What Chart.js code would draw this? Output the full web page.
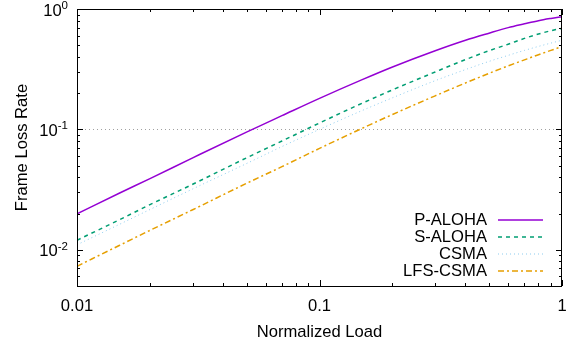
<!DOCTYPE html>
<html>
<head>
<meta charset="utf-8">
<script src="https://cdn.jsdelivr.net/npm/chart.js@4.4.1/dist/chart.umd.min.js"></script>
<style>
  body { margin: 0; background: #fff; }
  #wrap { width: 568px; height: 348px; }
</style>
</head>
<body>
<div id="wrap"><canvas id="lossChart" width="568" height="348"></canvas></div>
<script>
// values
const loads   = [0.01, 0.015, 0.02, 0.03, 0.05, 0.07, 0.1, 0.15, 0.2, 0.3, 0.4, 0.5, 0.6, 0.7, 0.8, 0.9, 1.0];
const pAloha  = [0.0199, 0.0296, 0.039, 0.058, 0.095, 0.13, 0.181, 0.259, 0.33, 0.45, 0.55, 0.63, 0.70, 0.753, 0.80, 0.835, 0.864];
const sAloha  = [0.0120, 0.0178, 0.0237, 0.035, 0.058, 0.080, 0.113, 0.165, 0.213, 0.30, 0.38, 0.45, 0.51, 0.57, 0.62, 0.66, 0.69];
const csma    = [0.0110, 0.0163, 0.0216, 0.032, 0.052, 0.072, 0.100, 0.1435, 0.183, 0.254, 0.314, 0.367, 0.412, 0.453, 0.489, 0.521, 0.55];
const lfsCsma = [0.0073, 0.0109, 0.0145, 0.0215, 0.0356, 0.049, 0.0695, 0.102, 0.133, 0.19, 0.243, 0.292, 0.337, 0.378, 0.417, 0.453, 0.487];

const seriesNames = ['P-ALOHA', 'S-ALOHA', 'CSMA', 'LFS-CSMA'];
const xTickValues = [0.01, 0.1, 1];
const xTickLabels = ['0.01', '0.1', '1'];
const yTickValues = [1, 0.1, 0.01];
const yTickExponents = ['0', '-1', '-2'];
const xTitle = 'Normalized Load';
const yTitle = 'Frame Loss Rate';

const FONT = "'Liberation Sans', Arial, Helvetica, sans-serif";
const TEXT = '16.6px ' + FONT;

function points(ys) {
    return loads.map((x, i) => ({ x: x, y: ys[i] }));
}

// minor tick values for a log range
function logMinors(min, max) {
    const out = [];
    for (let d = Math.floor(Math.log10(min)); d <= Math.ceil(Math.log10(max)); d++) {
        for (let m = 2; m <= 9; m++) {
            const v = m * Math.pow(10, d);
            if (v > min * 1.0001 && v < max * 0.9999) out.push(v);
        }
    }
    return out;
}

const gnuplotFrame = {
    id: 'gnuplotFrame',
    beforeDatasetsDraw(chart) {
        const ctx = chart.ctx;
        const a = chart.chartArea;
        const y = Math.round(chart.scales.y.getPixelForValue(0.1)) + 0.5;
        ctx.save();
        ctx.strokeStyle = '#a0a0a0';
        ctx.lineWidth = 1;
        ctx.setLineDash([1, 3]);
        ctx.beginPath();
        ctx.moveTo(a.left, y);
        ctx.lineTo(a.right, y);
        ctx.stroke();
        ctx.restore();
    },
    afterDraw(chart) {
        const ctx = chart.ctx;
        const a = chart.chartArea;
        const xs = chart.scales.x;
        const ys = chart.scales.y;
        ctx.save();

        // border
        ctx.strokeStyle = '#000';
        ctx.lineWidth = 1;
        ctx.strokeRect(Math.round(a.left) + 0.5, Math.round(a.top) + 0.5,
            Math.round(a.right - a.left) - 1, Math.round(a.bottom - a.top));

        // ticks, inward on all four sides
        ctx.beginPath();
        const xTick = (v, len) => {
            const px = Math.round(xs.getPixelForValue(v)) + 0.5;
            ctx.moveTo(px, a.bottom); ctx.lineTo(px, a.bottom - len);
            ctx.moveTo(px, a.top); ctx.lineTo(px, a.top + len);
        };
        const yTick = (v, len) => {
            const py = Math.round(ys.getPixelForValue(v)) + 0.5;
            ctx.moveTo(a.left, py); ctx.lineTo(a.left + len, py);
            ctx.moveTo(a.right, py); ctx.lineTo(a.right - len, py);
        };
        xTickValues.forEach(v => xTick(v, 6));
        logMinors(xs.min, xs.max).forEach(v => xTick(v, 3));
        yTickValues.forEach(v => yTick(v, 6));
        logMinors(ys.min, ys.max).forEach(v => yTick(v, 3));
        ctx.stroke();

        ctx.fillStyle = '#000';

        // x tick labels
        ctx.font = TEXT;
        ctx.textAlign = 'center';
        ctx.textBaseline = 'alphabetic';
        xTickValues.forEach((v, i) => {
            ctx.fillText(xTickLabels[i], xs.getPixelForValue(v), a.bottom + 25);
        });

        // y tick labels as 10^n
        yTickValues.forEach((v, i) => {
            const py = ys.getPixelForValue(v);
            ctx.font = '11.5px ' + FONT;
            ctx.textAlign = 'right';
            const supW = ctx.measureText(yTickExponents[i]).width;
            ctx.fillText(yTickExponents[i], a.left - 9, py);
            ctx.font = TEXT;
            ctx.fillText('10', a.left - 9 - supW, py + 6.5);
        });

        // axis titles
        ctx.font = TEXT;
        ctx.textAlign = 'center';
        ctx.fillText(xTitle, (a.left + a.right) / 2, 337);
        ctx.save();
        ctx.translate(27, (a.top + a.bottom) / 2);
        ctx.rotate(-Math.PI / 2);
        ctx.fillText(yTitle, 0, 0);
        ctx.restore();

        // key, gnuplot style: text then sample
        ctx.textAlign = 'right';
        ctx.textBaseline = 'middle';
        chart.data.datasets.forEach((ds, i) => {
            const ky = 220 + i * 17;
            ctx.fillStyle = '#000';
            ctx.fillText(ds.label, 487, ky);
            ctx.strokeStyle = ds.borderColor;
            ctx.lineWidth = ds.borderWidth;
            ctx.setLineDash(ds.borderDash || []);
            ctx.beginPath();
            ctx.moveTo(498, ky);
            ctx.lineTo(543, ky);
            ctx.stroke();
        });
        ctx.restore();
    }
};

const ctx = document.getElementById('lossChart').getContext('2d');
new Chart(ctx, {
    type: 'line',
    data: {
        datasets: [
            {
                label: seriesNames[0],
                data: points(pAloha),
                borderColor: '#9400d3',
                borderWidth: 1.5,
                borderDash: []
            },
            {
                label: seriesNames[1],
                data: points(sAloha),
                borderColor: '#009e73',
                borderWidth: 1.5,
                borderDash: [4, 4]
            },
            {
                label: seriesNames[2],
                data: points(csma),
                borderColor: '#8ccbee',
                borderWidth: 1,
                borderDash: [1, 3]
            },
            {
                label: seriesNames[3],
                data: points(lfsCsma),
                borderColor: '#e69f00',
                borderWidth: 1.5,
                borderDash: [6, 3, 2, 3]
            }
        ]
    },
    options: {
        responsive: false,
        animation: false,
        elements: {
            point: { radius: 0 },
            line: { cubicInterpolationMode: 'monotone', fill: false }
        },
        layout: {
            padding: { left: 77, right: 6, top: 9, bottom: 62 }
        },
        plugins: {
            legend: { display: false },
            tooltip: { enabled: false }
        },
        scales: {
            x: { type: 'logarithmic', min: 0.01, max: 1, display: false },
            y: { type: 'logarithmic', min: 0.005, max: 1, display: false }
        }
    },
    plugins: [gnuplotFrame]
});
</script>
</body>
</html>
